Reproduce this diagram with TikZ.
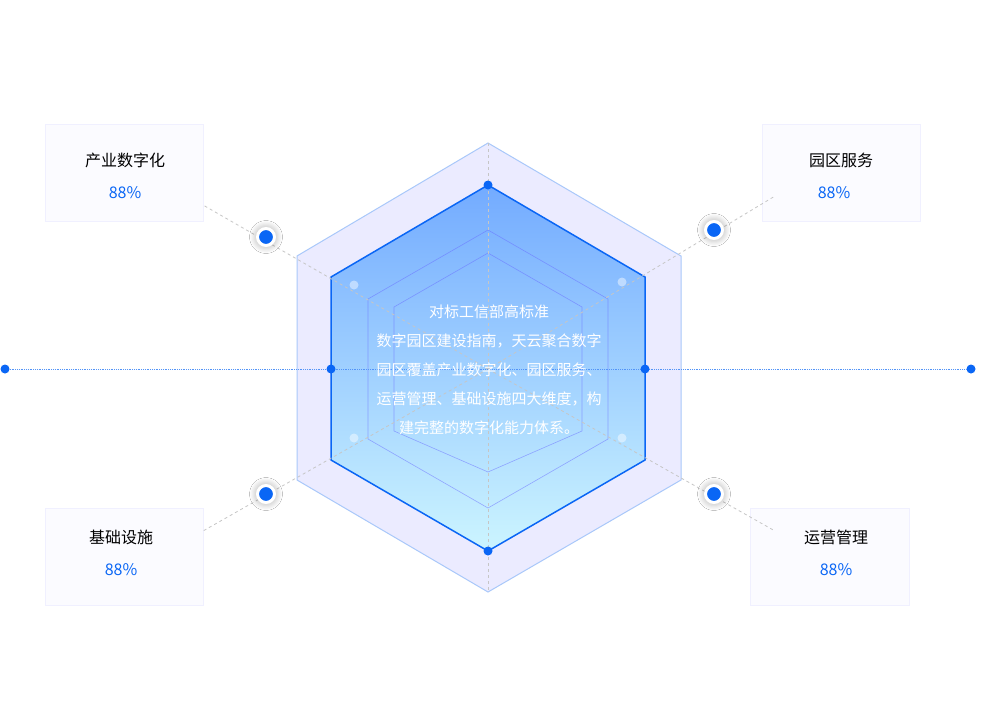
\documentclass[tikz,border=0pt]{standalone}
\usepackage{fontspec}
\setmainfont{Noto Sans CJK SC}
\usetikzlibrary{shadows.blur}
\definecolor{mblue}{HTML}{0A66F5}
\definecolor{lblue}{HTML}{A9C8FA}
\begin{document}
\begin{tikzpicture}[x=1pt,y=-1pt,
  box/.style={draw=blue!6,fill=blue!1.5,line width=0.8pt},
  ttl/.style={font=\fontsize{16}{16}\selectfont,text=black},
  val/.style={font=\fontsize{16}{16}\selectfont,text=mblue},
  axisline/.style={draw=gray!45,dashed,line width=0.8pt},
  dot/.style={circle,fill=mblue,inner sep=0pt,minimum size=9pt},
  gdot/.style={circle,fill=mblue,draw=white,line width=3pt,inner sep=0pt,minimum size=17pt,blur shadow={shadow xshift=0pt,shadow yshift=0pt,shadow blur radius=8pt,shadow opacity=40,shadow blur steps=8}},
  fdot/.style={circle,fill=white,fill opacity=0.45,inner sep=0pt,minimum size=9pt},
  txt/.style={font=\fontsize{15}{29}\selectfont,text=white,align=center}]
\useasboundingbox (0,0) rectangle (989,713);
\fill[white] (0,0) rectangle (989,713);
\fill[blue!8] (488,143)--(681,256)--(681,480)--(488,592)--(297,480)--(297,256)--cycle;
\draw[lblue,line width=1pt] (488,143)--(681,256)--(681,480)--(488,592)--(297,480)--(297,256)--cycle;
\shade[top color=blue!60!cyan!55!white, bottom color=blue!20!cyan!20!white]
 (488,185)--(645,277)--(645,460)--(488,551)--(331,460)--(331,277)--cycle;
\draw[blue!60!white,line width=0.6pt,opacity=0.5] (488,230)--(608,299)--(608,439)--(488,508)--(368,439)--(368,299)--cycle;
\draw[blue!60!white,line width=0.6pt,opacity=0.5] (488,253)--(582,307)--(582,431)--(488,472)--(394,431)--(394,307)--cycle;
\draw[mblue,line width=1.5pt] (488,185)--(645,277)--(645,460)--(488,551)--(331,460)--(331,277)--cycle;
\coordinate (c) at (488,369);
\coordinate (vt) at (488,143); \coordinate (vb) at (488,592);
\node[box,minimum width=158pt,minimum height=97pt] (b1) at (124,172.5) {};
\node[box,minimum width=158pt,minimum height=97pt] (b2) at (841,172.5) {};
\node[box,minimum width=158pt,minimum height=97pt] (b3) at (124,556.5) {};
\node[box,minimum width=159pt,minimum height=97pt] (b4) at (830,556.5) {};
\coordinate (a1) at (203,205); \coordinate (a2) at (775,196);
\coordinate (a3) at (203,531); \coordinate (a4) at (775,531);
\draw[axisline] (vt)--(vb);
\draw[axisline] (c)--(a1); \draw[axisline] (c)--(a2);
\draw[axisline] (c)--(a3); \draw[axisline] (c)--(a4);
\node[dot] (e1) at (5,369) {}; \node[dot] (e2) at (971,369) {};
\draw[mblue!70,densely dotted,line width=0.8pt] (e1)--(e2);
\node[dot] at (331,369) {}; \node[dot] at (645,369) {};
\node[dot] at (488,185) {}; \node[dot] at (488,551) {};
\node[fdot] at (354,285) {}; \node[fdot] at (622,282) {};
\node[fdot] at (354,438) {}; \node[fdot] at (622,438) {};
\node[gdot] (g1) at (266,237) {}; \node[gdot] (g2) at (714,230) {};
\node[gdot] (g3) at (266,494) {}; \node[gdot] (g4) at (714,494) {};
\node[ttl] at (125,160) {产业数字化}; \node[val] at (125,193) {88\%};
\node[ttl] at (841,160) {园区服务}; \node[val] at (834,193) {88\%};
\node[ttl] at (121,537) {基础设施}; \node[val] at (121,570) {88\%};
\node[ttl] at (836,537) {运营管理}; \node[val] at (836,570) {88\%};
\node[txt] (t) at (489,370) {对标工信部高标准\\数字园区建设指南，天云聚合数字\\园区覆盖产业数字化、园区服务、\\运营管理、基础设施四大维度，构\\建完整的数字化能力体系。};
\end{tikzpicture}
\end{document}
